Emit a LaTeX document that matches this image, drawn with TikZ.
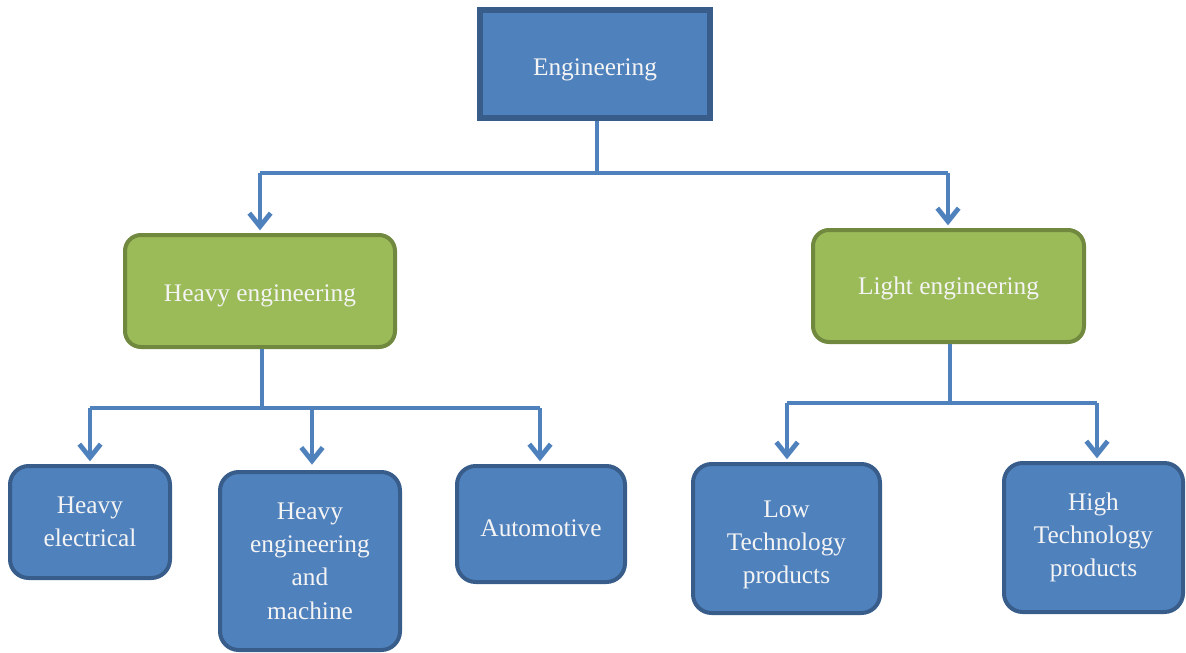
\documentclass[tikz,border=0pt]{standalone}
\usepackage{fontspec}
\setmainfont{Liberation Serif}
\usetikzlibrary{arrows.meta}
\definecolor{bluefill}{HTML}{4F81BD}
\definecolor{blueedge}{HTML}{385D8A}
\definecolor{greenfill}{HTML}{9BBB59}
\definecolor{greenedge}{HTML}{71893F}
\definecolor{linkcol}{HTML}{4F81BD}
\definecolor{txtcol}{HTML}{F4F4F4}
\newcommand{\drop}[1]{\rule{0pt}{#1}}
\tikzset{
  px/.style={x=0.75pt,y=-0.75pt},
  basebox/.style={inner sep=0pt, align=center, text=txtcol,
    font=\fontsize{19}{25}\selectfont, line width=3pt},
  topbox/.style={basebox, draw=blueedge, fill=bluefill, line width=4pt},
  midbox/.style={basebox, draw=greenedge, fill=greenfill, rounded corners=12pt},
  leafbox/.style={basebox, draw=blueedge, fill=bluefill, rounded corners=14pt},
  link/.style={draw=linkcol, line width=3.6pt},
  arr/.style={link, -{Straight Barb[length=10pt,width=16pt,line width=3.6pt]}}
}
\begin{document}
\begin{tikzpicture}[px]
\useasboundingbox (0,0) rectangle (1186,653);
\node[topbox, minimum width=230*0.75pt, minimum height=108*0.75pt] (eng) at (595,64) {\drop{22pt}Engineering};
\node[midbox, minimum width=270*0.75pt, minimum height=112*0.75pt] (heavy) at (260,291) {\drop{20.5pt}Heavy engineering};
\node[midbox, minimum width=271*0.75pt, minimum height=112*0.75pt] (light) at (948.5,286) {\drop{17.5pt}Light engineering};
\node[leafbox, minimum width=160*0.75pt, minimum height=112*0.75pt] (he) at (90,522) {Heavy\\electrical};
\node[leafbox, minimum width=180*0.75pt, minimum height=178*0.75pt] (hem) at (310,561) {Heavy\\engineering\\and\\machine};
\node[leafbox, minimum width=168*0.75pt, minimum height=116*0.75pt] (auto) at (541,524) {\drop{19.5pt}Automotive};
\node[leafbox, minimum width=187*0.75pt, minimum height=149*0.75pt] (low) at (786.5,538.5) {\drop{22pt}Low\\Technology\\products};
\node[leafbox, minimum width=179*0.75pt, minimum height=149*0.75pt] (high) at (1093.5,537.5) {High\\Technology\\products};
% junction points
\coordinate (j1) at (597,173);
\coordinate (j1l) at (260,173);
\coordinate (j1r) at (948,173);
\coordinate (j2) at (262,408);
\coordinate (j2l) at (90,408);
\coordinate (j2m) at (312,408);
\coordinate (j2r) at (540,408);
\coordinate (j3) at (950,403);
\coordinate (j3l) at (787,403);
\coordinate (j3r) at (1097,403);
% level 1
\draw[link] (eng.south -| j1) -- (j1);
\draw[link] (j1l) -- (j1r);
\draw[arr] (j1l) -- ([yshift=2pt]heavy.north -| j1l);
\draw[arr] (j1r) -- ([yshift=2pt]light.north -| j1r);
% level 2 left
\draw[link] (heavy.south -| j2) -- (j2);
\draw[link] (j2l) -- (j2r);
\draw[arr] (j2l) -- ([yshift=2pt]he.north -| j2l);
\draw[arr] (j2m) -- ([yshift=4pt]hem.north -| j2m);
\draw[arr] (j2r) -- ([yshift=2pt]auto.north -| j2r);
% level 2 right
\draw[link] (light.south -| j3) -- (j3);
\draw[link] (j3l) -- (j3r);
\draw[arr] (j3l) -- ([yshift=2pt]low.north -| j3l);
\draw[arr] (j3r) -- ([yshift=2pt]high.north -| j3r);
\end{tikzpicture}
\end{document}
